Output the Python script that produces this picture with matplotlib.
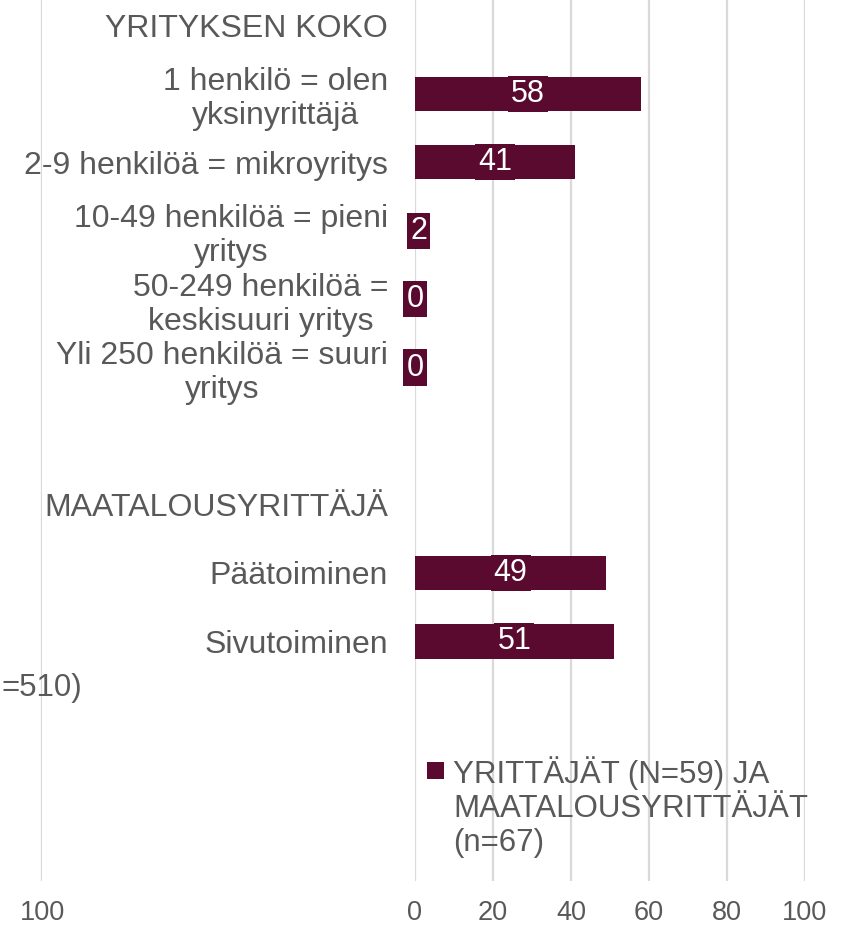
import matplotlib
matplotlib.use('Agg')
import matplotlib.pyplot as plt
from matplotlib.patches import Rectangle

# ---------------- data ----------------
categories = [
    "YRITYKSEN KOKO",
    "1 henkilö = olen\nyksinyrittäjä",
    "2-9 henkilöä = mikroyritys",
    "10-49 henkilöä = pieni\nyritys",
    "50-249 henkilöä =\nkeskisuuri yritys",
    "Yli 250 henkilöä = suuri\nyritys",
    "",
    "MAATALOUSYRITTÄJÄ",
    "Päätoiminen",
    "Sivutoiminen",
    "",
    "",
    "",
]
values = [None, 58, 41, 2, 0, 0, None, None, 49, 51, None, None, None]
x_ticks = [0, 20, 40, 60, 80, 100]
legend_label = "YRITTÄJÄT (N=59) JA\nMAATALOUSYRITTÄJÄT\n(n=67)"
left_legend_fragment = "=510)"

# ---------------- style ----------------
BAR = "#5A0A2F"
TXT = "#595959"
GRID = "#D9D9D9"
plt.rcParams['font.family'] = ['Liberation Sans', 'DejaVu Sans']

W, H = 856, 927
fig = plt.figure(figsize=(W / 100, H / 100), dpi=100)


def px(x0, y0, x1, y1):
    return [x0 / W, 1 - y1 / H, (x1 - x0) / W, (y1 - y0) / H]


ax = fig.add_axes(px(415, -9, 805, 881))
axl = fig.add_axes(px(-348, -9, 42, 881))

n = len(categories)
for a in (ax, axl):
    a.set_xlim(0, 100)
    a.set_ylim(n - 0.5, -0.5)
    a.set_xticks(x_ticks)
    a.set_axisbelow(True)
    a.xaxis.grid(True, color=GRID, linewidth=1.6)
    a.yaxis.grid(False)
    for s in a.spines.values():
        s.set_visible(False)
    a.tick_params(axis='x', length=0, pad=13.5, labelsize=19.5, labelcolor=TXT)
    a.set_facecolor('none')

axl.set_yticks([])
# only the right-most tick of the (cropped) left panel is inside the figure
axl.set_xticklabels([str(t) if t == 100 else "" for t in x_ticks])

ypos = [i for i, v in enumerate(values) if v is not None]
vals = [v for v in values if v is not None]
ax.barh(ypos, vals, height=0.5, color=BAR, zorder=2)
for y, v in zip(ypos, vals):
    ax.text(v / 2, y, f"{v}", ha='center', va='center', color='white',
            fontsize=22, zorder=3,
            bbox=dict(facecolor=BAR, edgecolor='none', pad=2.2))

ax.set_yticks(range(n))
ax.set_yticklabels(categories)
ax.tick_params(axis='y', length=0, pad=19.4, labelsize=23, labelcolor=TXT)
for lab in ax.get_yticklabels():
    lab.set_multialignment('center')
    lab.set_linespacing(1.18)

# legend (right panel)
fig.add_artist(Rectangle((427 / W, 1 - 779 / H), 17 / W, 17 / H,
                         transform=fig.transFigure, facecolor=BAR,
                         edgecolor='none'))
fig.text(453 / W, 1 - 851 / H, legend_label, ha='left', va='baseline',
         fontsize=22.5, color=TXT, linespacing=1.17)

# fragment of the left panel legend
fig.text(82.5 / W, 1 - 688 / H, left_legend_fragment, ha='right',
         va='center', fontsize=22.5, color=TXT)

fig.savefig('out.png', dpi=100)
